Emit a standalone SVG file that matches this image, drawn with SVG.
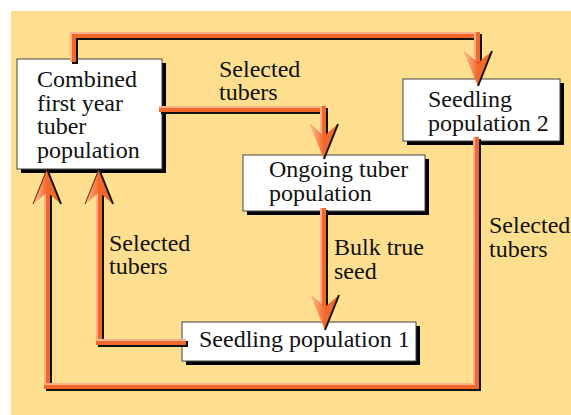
<svg xmlns="http://www.w3.org/2000/svg" width="571" height="415" viewBox="0 0 571 415">
<style>
.bg{fill:#FDDF8F}
.box{fill:#ffffff;stroke:#444;stroke-width:1}
.shadow{fill:#000}
.t{font-family:'Liberation Serif',serif;font-size:24px;fill:#111}
.pB{fill:none;stroke:#111;stroke-width:6;stroke-linejoin:miter;stroke-linecap:butt}
.pO{fill:none;stroke:#F2672A;stroke-width:6;stroke-linejoin:miter;stroke-linecap:butt}
.pL{fill:none;stroke:#F9B38A;stroke-width:2;stroke-linejoin:miter;stroke-linecap:butt}
</style>
<defs>
<linearGradient id="gl" x1="0" y1="0" x2="1" y2="0">
<stop offset="0" stop-color="#FBC29C"/>
<stop offset="1" stop-color="#F2672A"/>
</linearGradient>
<g id="ahDown">
<polygon points="0,0 -14,-35 0,-23 14,-35" fill="#F2672A"/>
<polygon points="0,0 -14,-35 0,-23" fill="url(#gl)"/>
<path d="M14,-35 L0,0" stroke="#111" stroke-width="2" fill="none"/>
</g>
<g id="ahUp">
<polygon points="0,0 -14,35 0,23 14,35" fill="#F2672A"/>
<polygon points="0,0 -14,35 0,23" fill="url(#gl)"/>
<path d="M0,0 L14,35" stroke="#111" stroke-width="2" fill="none"/>
<path d="M0,0 L-14,35" stroke="#5a2a10" stroke-width="1" fill="none"/>
</g>
</defs>
<rect class="bg" x="11" y="11" width="560" height="404"/>

<g font-family="Liberation Serif" font-size="24">
<g id="node-combined">
<rect class="shadow" x="21" y="63" width="145" height="110"/>
<rect class="box" x="17" y="59" width="145" height="110"/>
<text class="t" x="37" y="87">Combined</text>
<text class="t" x="37" y="110.5">first year</text>
<text class="t" x="37" y="134">tuber</text>
<text class="t" x="37" y="157.5">population</text>
</g>
<g id="node-ongoing">
<rect class="shadow" x="247" y="159" width="182" height="56"/>
<rect class="box" x="243" y="155" width="182" height="56"/>
<text class="t" x="269" y="177">Ongoing tuber</text>
<text class="t" x="269" y="201">population</text>
</g>
<g id="node-seedling2">
<rect class="shadow" x="407" y="83" width="157" height="62"/>
<rect class="box" x="403" y="79" width="157" height="62"/>
<text class="t" x="428" y="107">Seedling</text>
<text class="t" x="428" y="131">population 2</text>
</g>
<g id="node-seedling1">
<rect class="shadow" x="186" y="326" width="234" height="39"/>
<rect class="box" x="182" y="322" width="234" height="39"/>
<text class="t" x="199" y="347">Seedling population 1</text>
</g>

<g id="connectors">
<g id="c-top">
<path class="pB" transform="translate(2,2)" d="M73,62 V35 H477 V62"/>
<path class="pO" d="M73,62 V35 H477 V62"/>
<path class="pL" transform="translate(-2,-2)" d="M73,64 V35 H477 V62"/>
<use href="#ahDown" x="478" y="86"/>
</g>
<g id="c-comb-ongoing">
<path class="pB" transform="translate(2,2)" d="M159,109 H323 V136"/>
<path class="pO" d="M159,109 H323 V136"/>
<path class="pL" transform="translate(-2,-2)" d="M161,109 H323 V136"/>
<use href="#ahDown" x="324" y="159"/>
</g>
<g id="c-ongoing-s1">
<path class="pB" transform="translate(2,2)" d="M323,208 V307"/>
<path class="pO" d="M323,208 V307"/>
<path class="pL" transform="translate(-2,-2)" d="M323,210 V307"/>
<use href="#ahDown" x="325" y="330"/>
</g>
<g id="c-s2-comb">
<path class="pB" transform="translate(2,2)" d="M476,137 V386 H47 V192"/>
<path class="pO" d="M476,137 V386 H47 V192"/>
<path class="pL" transform="translate(-2,-2)" d="M476,139 V386 H47 V192"/>
<use href="#ahUp" x="47" y="169"/>
</g>
<g id="c-s1-comb">
<path class="pB" transform="translate(2,2)" d="M186,342 H99 V192"/>
<path class="pO" d="M186,342 H99 V192"/>
<path class="pL" transform="translate(-2,-2)" d="M188,342 H99 V192"/>
<use href="#ahUp" x="99" y="169"/>
</g>
</g>

<g id="labels">
<text class="t" x="219" y="77">Selected</text>
<text class="t" x="219" y="100">tubers</text>
<text class="t" x="109" y="251">Selected</text>
<text class="t" x="109" y="274">tubers</text>
<text class="t" x="334" y="255">Bulk true</text>
<text class="t" x="334" y="279">seed</text>
<text class="t" x="489" y="233">Selected</text>
<text class="t" x="489" y="257">tubers</text>
</g>
</g>
</svg>
